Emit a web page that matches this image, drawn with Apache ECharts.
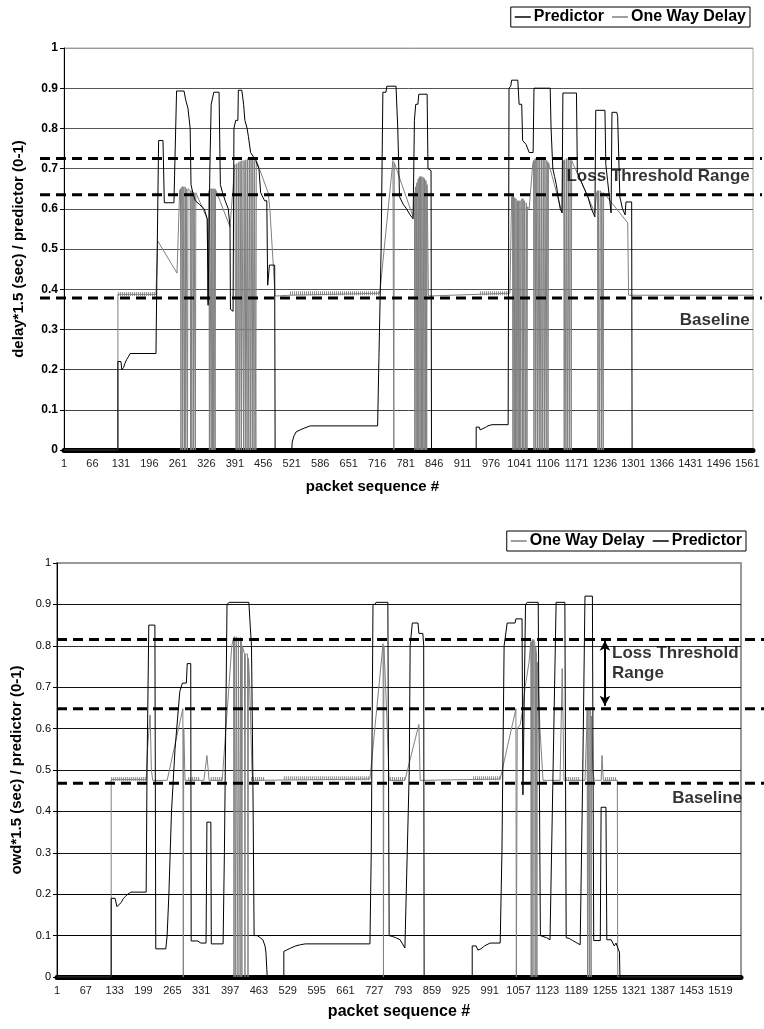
<!DOCTYPE html>
<html>
<head>
<meta charset="utf-8">
<script src="https://cdn.jsdelivr.net/npm/echarts@6.0.0/dist/echarts.min.js"></script>
<style>
html, body { margin: 0; padding: 0; background: #fff; }
#chart { width: 764px; height: 1029px; }
</style>
</head>
<body>
<div id="chart"></div>
<script>
// x values are packet index (packet # - 1); axis labels add 1 back
const topTickStep = 65;
const bottomTickStep = 66;
const topXMax = 1573;
const bottomXMax = 1565;

const topThresholds = [0.725, 0.635, 0.378];
const bottomThresholds = [0.815, 0.648, 0.468];

// ---- top chart ----
const topPredictor = [
  [0,0],[123,0],[123,0.22],[130,0.22],[132,0.2],[136,0.205],[139,0.215],[143,0.225],[147,0.232],[151,0.24],
  [210,0.24],[212,0.43],[216,0.77],[226,0.77],[229,0.615],[251,0.615],[257,0.893],[274,0.893],[278,0.87],
  [283,0.85],[288,0.8],[290,0.66],[294,0.64],[300,0.62],[310,0.61],[320,0.6],[327,0.575],[329,0.36],
  [331,0.36],[333,0.7],[336,0.86],[340,0.86],[342,0.89],[354,0.89],[357,0.66],[362,0.64],[368,0.62],
  [375,0.6],[379,0.555],[380,0.35],[386,0.345],[388,0.8],[392,0.82],[397,0.82],[398,0.895],[406,0.895],
  [410,0.86],[413,0.82],[418,0.8],[421,0.78],[426,0.74],[438,0.72],[445,0.7],[449,0.64],[458,0.62],
  [463,0.62],[465,0.41],[468,0.41],[469,0.46],[481,0.46],[482,0],
  [520,0],[521,0.02],[525,0.035],[530,0.045],[539,0.05],[550,0.055],[562,0.06],[716,0.06],[719,0.23],
  [724,0.5],[728,0.89],[735,0.89],[737,0.905],[758,0.905],[762,0.8],[766,0.63],[775,0.61],[782,0.6],
  [790,0.585],[797,0.575],[800,0.82],[803,0.86],[808,0.86],[810,0.885],[829,0.885],[831,0.7],[838,0.695],[839,0],
  [941,0],[941,0.057],[948,0.057],[950,0.05],[956,0.053],[962,0.056],[968,0.06],[977,0.063],[1014,0.063],
  [1016,0.9],[1020,0.905],[1022,0.92],[1036,0.92],[1039,0.86],[1045,0.86],[1047,0.77],[1055,0.76],
  [1062,0.74],[1071,0.74],[1073,0.9],[1110,0.9],[1112,0.8],[1116,0.7],[1120,0.68],[1124,0.66],[1128,0.63],
  [1133,0.6],[1137,0.59],[1139,0.888],[1170,0.888],[1172,0.69],[1180,0.67],[1188,0.65],[1196,0.63],
  [1204,0.6],[1212,0.58],[1214,0.845],[1235,0.845],[1237,0.71],[1241,0.67],[1245,0.63],[1249,0.59],
  [1251,0.84],[1262,0.84],[1264,0.83],[1267,0.83],[1269,0.63],[1275,0.6],[1281,0.585],[1283,0.617],
  [1296,0.617],[1297,0],[1573,0]
];

const topDelay = [
  [0,0],[123,0],[123,0.387],[210,0.387],[214,0.52],[258,0.44],[264,0.645],
  [266,0.65],[267,0],[268,0.65],[270,0.655],[271,0],[272,0.655],[274,0.655],[275,0],[276,0.655],
  [277,0.65],[278,0],[279,0.65],[281,0.65],[282,0],[283,0.65],[288,0.645],[289,0],[290,0.645],
  [291,0.645],[292,0],[293,0.645],[295,0.64],[296,0],[297,0.64],[299,0.64],[300,0],[301,0.64],[302,0.64],
  [327,0.575],[329,0.37],[331,0.645],
  [332,0],[333,0.65],[335,0.65],[336,0],[337,0.65],[338,0.65],[339,0],[340,0.65],[341,0.65],[342,0],
  [343,0.65],[344,0.648],[345,0],[346,0.648],
  [379,0.555],[390,0.71],
  [392,0.71],[393,0],[394,0.712],[396,0.715],[397,0],[398,0.715],[400,0.718],[401,0],[402,0.718],
  [404,0.72],[405,0],[406,0.72],[409,0.72],[410,0],[411,0.72],[413,0.722],[414,0],[415,0.722],
  [417,0.725],[418,0],[419,0.725],[421,0.725],[422,0],[423,0.725],[425,0.725],[426,0],[427,0.725],
  [429,0.722],[430,0],[431,0.722],[433,0.72],[434,0],[435,0.72],[437,0.72],[438,0],[439,0.72],[441,0.715],
  [466,0.64],[470,0.6],[482,0.383],[516,0.385],[721,0.39],[751,0.72],[752,0.72],[753,0],[754,0.715],
  [797,0.58],[799,0.62],[800,0.64],[801,0],[802,0.65],[803,0.655],[804,0],[805,0.66],[806,0.665],
  [807,0],[808,0.67],[809,0.675],[810,0],[811,0.675],[812,0.68],[813,0],[814,0.68],[815,0.68],[816,0],
  [817,0.68],[818,0.678],[819,0],[820,0.678],[821,0.675],[822,0],[823,0.675],[824,0.67],[825,0],
  [826,0.67],[827,0.66],[828,0],[829,0.66],[832,0.383],[1018,0.39],
  [1022,0.63],[1024,0.635],[1025,0],[1026,0.632],[1027,0.63],[1028,0],[1029,0.628],[1030,0.625],
  [1031,0],[1032,0.625],[1033,0.622],[1034,0],[1035,0.62],[1036,0.62],[1037,0],[1038,0.62],[1039,0.62],
  [1040,0],[1041,0.62],[1042,0.62],[1043,0],[1044,0.62],[1046,0.625],[1047,0],[1048,0.625],[1049,0.625],
  [1050,0],[1051,0.62],[1053,0.62],[1054,0],[1055,0.615],[1056,0.61],[1057,0],[1058,0.605],[1062,0.6],
  [1070,0.71],[1072,0.72],[1073,0],[1074,0.72],[1076,0.725],[1077,0],[1078,0.725],[1080,0.725],[1081,0],
  [1082,0.725],[1084,0.725],[1085,0],[1086,0.725],[1088,0.725],[1089,0],[1090,0.725],[1092,0.725],
  [1093,0],[1094,0.725],[1096,0.722],[1097,0],[1098,0.722],[1100,0.72],[1101,0],[1102,0.72],
  [1104,0.715],[1105,0],[1106,0.715],[1137,0.59],
  [1139,0.7],[1141,0.72],[1142,0],[1143,0.722],[1145,0.725],[1146,0],[1147,0.725],[1149,0.725],[1150,0],
  [1151,0.725],[1153,0.725],[1154,0],[1155,0.725],[1157,0.72],[1158,0],[1159,0.72],[1161,0.72],
  [1212,0.59],[1216,0.64],[1218,0.645],[1219,0],[1220,0.645],[1222,0.645],[1223,0],[1224,0.645],
  [1226,0.64],[1227,0],[1228,0.64],[1230,0.64],[1231,0],[1232,0.64],
  [1287,0.565],[1289,0.385],[1573,0.385]
];

// thicker textured stretches of the delay baseline
const topDelayHatch = [
  [123,0.388],[208,0.388],[300,NaN],[516,0.39],[721,0.39],[800,NaN],[950,0.39],[1018,0.39]
];

// ---- bottom chart ----
const bottomPredictor = [
  [0,0],[124,0],[124,0.19],[133,0.19],[137,0.17],[142,0.175],[147,0.18],[152,0.19],[157,0.195],[162,0.2],
  [169,0.205],[204,0.205],[206,0.5],[210,0.85],[224,0.85],[226,0.068],[249,0.068],[252,0.1],[256,0.2],
  [262,0.4],[270,0.55],[281,0.69],[287,0.71],[296,0.71],[298,0.757],[306,0.757],[307,0.087],[322,0.087],
  [329,0.082],[341,0.082],[343,0.374],[352,0.374],[353,0.08],[380,0.08],[383,0.3],[387,0.7],[389,0.9],
  [394,0.905],[439,0.905],[442,0.85],[445,0.8],[448,0.5],[451,0.1],[458,0.1],[465,0.095],[471,0.09],
  [476,0.075],[478,0.06],[480,0.06],[481,0],
  [519,0],[519,0.062],[525,0.065],[535,0.07],[546,0.075],[557,0.078],[568,0.08],[716,0.08],[719,0.3],
  [723,0.9],[728,0.9],[730,0.905],[757,0.905],[760,0.1],[767,0.098],[775,0.095],[785,0.09],[796,0.07],
  [799,0.07],[806,0.5],[808,0.8],[813,0.855],[826,0.855],[828,0.83],[837,0.83],[839,0.8],[840,0],
  [950,0],[950,0.075],[959,0.075],[963,0.065],[970,0.068],[978,0.075],[991,0.082],[1014,0.082],
  [1018,0.3],[1023,0.8],[1030,0.855],[1048,0.855],[1050,0.865],[1064,0.865],[1066,0.44],[1068,0.44],
  [1072,0.9],[1076,0.905],[1101,0.905],[1106,0.1],[1110,0.098],[1120,0.095],[1128,0.09],[1130,0.09],
  [1135,0.5],[1142,0.905],[1162,0.905],[1165,0.095],[1172,0.093],[1180,0.088],[1190,0.082],[1197,0.078],
  [1199,0.075],[1203,0.5],[1208,0.92],[1225,0.92],[1228,0.088],[1243,0.088],[1245,0.41],[1256,0.41],
  [1258,0.09],[1268,0.09],[1275,0.075],[1279,0.082],[1281,0.082],[1285,0.065],[1287,0.06],[1288,0],[1565,0]
];

const bottomDelay = [
  [0,0],[124,0],[124,0.477],[204,0.477],[207,0.55],[213,0.633],[216,0.5],[219,0.475],[252,0.475],
  [288,0.648],[289,0],[290,0.6],[293,0.475],[336,0.475],[343,0.535],[348,0.475],[378,0.475],[400,0.8],
  [404,0.82],[405,0],[406,0.822],[408,0.822],[409,0],[410,0.822],[413,0.822],[414,0],[415,0.82],
  [418,0.82],[419,0],[420,0.82],[422,0.81],[423,0],[424,0.8],[429,0.78],[430,0],[431,0.78],[436,0.78],
  [437,0],[438,0.77],[441,0.7],[446,0.5],[448,0.475],
  [716,0.478],[746,0.805],[747,0],[748,0.8],[752,0.7],[760,0.475],[796,0.475],[828,0.61],[831,0.475],
  [1014,0.478],[1050,0.648],[1051,0],[1053,0.6],[1060,0.61],[1066,0.65],[1071,0.7],[1080,0.76],
  [1084,0.81],[1085,0],[1086,0.81],[1088,0.815],[1089,0],[1090,0.815],[1093,0.81],[1094,0],[1095,0.8],
  [1097,0.78],[1098,0],[1099,0.76],[1105,0.6],[1112,0.475],[1151,0.475],[1156,0.745],[1160,0.475],
  [1208,0.475],[1212,0.6],[1213,0.65],[1214,0],[1215,0.65],[1217,0.65],[1218,0],[1219,0.645],
  [1221,0.64],[1222,0],[1223,0.63],[1226,0.5],[1229,0.475],[1245,0.475],[1247,0.535],[1250,0.475],
  [1282,0.475],[1283,0],[1565,0]
];

const bottomDelayHatch = [
  [124,0.478],[204,0.478],[250,NaN],[300,0.478],[327,0.478],[340,NaN],[352,0.478],[378,0.478],[400,NaN],
  [444,0.478],[476,0.478],[500,NaN],[519,0.48],[716,0.48],[740,NaN],[762,0.478],[796,0.478],[900,NaN],
  [952,0.48],[1014,0.48],[1100,NaN],[1165,0.478],[1197,0.478],[1230,NaN],[1254,0.478],[1281,0.478]
];

const NARROW = '"Liberation Sans Narrow", "Arial Narrow", "Liberation Sans", Arial, sans-serif';
const SANS = '"Liberation Sans", Arial, sans-serif';

const chart = echarts.init(document.getElementById('chart'));

function xAxisFor(grid, max, step, nameGap, namePad) {
  return {
    type: 'value', gridIndex: grid, min: 0, max: max, interval: step,
    name: 'packet sequence #', nameLocation: 'middle', nameGap: nameGap,
    nameTextStyle: { fontFamily: grid === 0 ? SANS : NARROW, fontWeight: 'bold', fontSize: grid === 0 ? 15 : 16,
      color: '#000', padding: namePad },
    axisLine: { show: true, onZero: false, lineStyle: { color: '#000', width: 5 } },
    axisTick: { show: false },
    splitLine: { show: false },
    axisLabel: {
      color: '#222', fontFamily: SANS, fontSize: 11, margin: 8,
      formatter: v => (v % step === 0 ? String(v + 1) : '')
    }
  };
}

function yAxisFor(grid, name, bold, size, gridColors, nameGap) {
  return {
    type: 'value', gridIndex: grid, min: 0, max: 1, interval: 0.1,
    name: name, nameLocation: 'middle', nameRotate: 90, nameGap: nameGap,
    nameTextStyle: { fontFamily: SANS, fontWeight: 'bold', fontSize: 15, color: '#000' },
    axisLine: { show: true, lineStyle: { color: '#000', width: 1 } },
    axisTick: { show: true, length: 4, lineStyle: { color: '#000' } },
    axisLabel: { color: '#000', fontFamily: SANS, fontSize: size, fontWeight: bold ? 'bold' : 'normal', margin: 6 },
    splitLine: { show: true, lineStyle: { color: gridColors, width: 1 } }
  };
}

function hiddenAxis(grid) {
  return { type: 'value', gridIndex: grid, min: 0, max: 1, show: false };
}

function dashedLine(v, axis) {
  return {
    type: 'line', xAxisIndex: axis, yAxisIndex: axis, data: [[0, v], [1, v]],
    symbol: 'none', silent: true, z: 6,
    lineStyle: { color: '#000', width: 3, type: [10, 6] }
  };
}

function note(axis, x, y, text, pos, extra) {
  return Object.assign({
    type: 'scatter', xAxisIndex: axis, yAxisIndex: axis, data: [[x, y]], symbolSize: 0, silent: true, z: 7,
    label: { show: true, position: pos, distance: 0, formatter: text,
      fontFamily: NARROW, fontWeight: 'bold', fontSize: 17, color: '#000', lineHeight: 20 }
  }, extra || {});
}

function legendFor(names, right, top) {
  return {
    data: names, right: right, top: top,
    icon: 'rect', itemWidth: 16, itemHeight: 1.5, itemGap: 8,
    borderColor: '#000', borderWidth: 1, borderRadius: 0, padding: [2, 4, 2, 4],
    textStyle: { fontFamily: NARROW, fontWeight: 'bold', fontSize: 16, color: '#000', padding: [0, 0, 0, -2] }
  };
}

const topGridColors = ['#444', '#444', '#444', '#444', '#555', '#555', '#555', '#555', '#555', '#555', '#999'];
const bottomGridColors = ['#000', '#000', '#000', '#111', '#111', '#111', '#111', '#111', '#333', '#111', '#999'];

const option = {
  animation: false,
  backgroundColor: '#fff',
  legend: [
    legendFor(['Predictor', 'One Way Delay'], 14, 7),
    legendFor(['One Way Delay', 'Predictor'], 18, 531)
  ],
  grid: [
    { left: 64, top: 48, width: 689, height: 402, show: true, borderColor: '#aaa', borderWidth: 1 },
    { left: 40, top: 48, right: 2, height: 402 },
    { left: 57, top: 563, width: 684, height: 414, show: true, borderColor: '#999', borderWidth: 2 },
    { left: 57, top: 563, right: 0, height: 414 }
  ],
  xAxis: [
    xAxisFor(0, topXMax, topTickStep, 29, [0, 72, 0, 0]),
    hiddenAxis(1),
    xAxisFor(2, bottomXMax, bottomTickStep, 27, [0, 0, 0, 0]),
    hiddenAxis(3)
  ],
  yAxis: [
    yAxisFor(0, 'delay*1.5 (sec) / predictor (0-1)', true, 12, topGridColors, 38),
    hiddenAxis(1),
    yAxisFor(2, 'owd*1.5 (sec) / predictor (0-1)', false, 11, bottomGridColors, 32),
    hiddenAxis(3)
  ],
  series: [
    { name: 'hatchTop', type: 'line', xAxisIndex: 0, yAxisIndex: 0, data: topDelayHatch, symbol: 'none',
      silent: true, z: 2, lineStyle: { color: '#8c8c8c', width: 4, type: [1, 1] } },
    { name: 'One Way Delay', type: 'line', xAxisIndex: 0, yAxisIndex: 0, data: topDelay, symbol: 'none',
      z: 3, color: '#808080', lineStyle: { color: '#808080', width: 1 } },
    { name: 'Predictor', type: 'line', xAxisIndex: 0, yAxisIndex: 0, data: topPredictor, symbol: 'none',
      z: 4, color: '#000', lineStyle: { color: '#000', width: 1 } },

    { name: 'hatchBottom', type: 'line', xAxisIndex: 2, yAxisIndex: 2, data: bottomDelayHatch, symbol: 'none',
      silent: true, z: 2, lineStyle: { color: '#8c8c8c', width: 4, type: [1, 1] } },
    { name: 'One Way Delay', type: 'line', xAxisIndex: 2, yAxisIndex: 2, data: bottomDelay, symbol: 'none',
      z: 3, color: '#808080', lineStyle: { color: '#808080', width: 1 } },
    { name: 'Predictor', type: 'line', xAxisIndex: 2, yAxisIndex: 2, data: bottomPredictor, symbol: 'none',
      z: 4, color: '#000', lineStyle: { color: '#000', width: 1 } },

    ...topThresholds.map(v => dashedLine(v, 1)),
    ...bottomThresholds.map(v => dashedLine(v, 3)),

    note(1, 0.983, 0.682, 'Loss Threshold Range', 'left'),
    note(1, 0.983, 0.323, 'Baseline', 'left'),
    note(3, 0.785, 0.758, 'Loss Threshold\nRange', 'right', {
      markLine: {
        silent: true, symbol: ['arrow', 'arrow'], symbolSize: [8, 10],
        lineStyle: { color: '#000', width: 2, type: 'solid' }, label: { show: false },
        data: [[{ coord: [0.775, 0.812] }, { coord: [0.775, 0.655] }]]
      }
    }),
    note(3, 0.969, 0.432, 'Baseline', 'left')
  ]
};

chart.setOption(option);
</script>
</body>
</html>
